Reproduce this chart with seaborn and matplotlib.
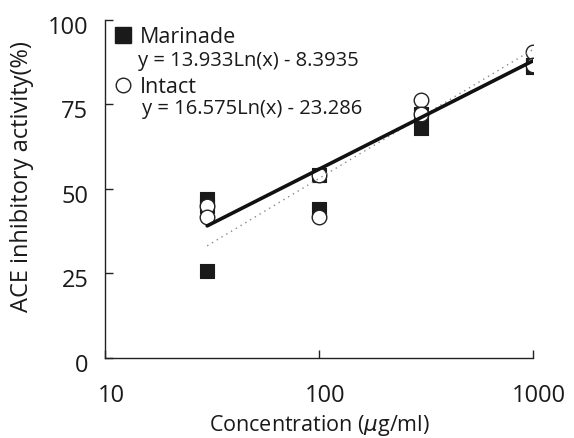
import numpy as np
import pandas as pd
import matplotlib
matplotlib.use("Agg")
import matplotlib.pyplot as plt
import matplotlib.transforms as mtransforms
import seaborn as sns
from matplotlib.lines import Line2D

# ---- data ----
marinade_x = [30, 30, 30, 100, 100, 300, 300, 1000, 1000]
marinade_y = [47, 45, 25.5, 54, 44, 72, 68, 86, 86.5]
intact_x = [30, 30, 100, 100, 300, 300, 1000, 1000]
intact_y = [45, 41.5, 54, 41.6, 76.3, 72, 90.3, 86.5]
marinade_coef = (13.933, -8.3935)
intact_coef = (16.575, -23.286)
fit_range = (30, 1000)
x_ticks = [10, 100, 1000]
y_ticks = [0, 25, 50, 75, 100]

sns.set_theme(style="ticks")
plt.rcParams['font.family'] = ['Open Sans', 'DejaVu Sans']

fig = plt.figure(figsize=(5.74, 4.39), dpi=100)
ax = fig.add_axes([0.183, 0.183, 0.746, 0.770])

dm = pd.DataFrame({"x": marinade_x, "y": marinade_y})
di = pd.DataFrame({"x": intact_x, "y": intact_y})

sns.scatterplot(data=dm, x="x", y="y", marker="s", s=115, color="#1a1a1a",
                edgecolor="#1a1a1a", linewidth=0.8, ax=ax, zorder=3)
sns.scatterplot(data=di, x="x", y="y", marker="o", s=110, facecolor="white",
                edgecolor="#222222", linewidth=1.0, ax=ax, zorder=4)

xf = np.geomspace(fit_range[0], fit_range[1], 60)
fm = pd.DataFrame({"x": xf, "y": marinade_coef[0] * np.log(xf) + marinade_coef[1]})
fi = pd.DataFrame({"x": xf, "y": intact_coef[0] * np.log(xf) + intact_coef[1]})
sns.lineplot(data=fi, x="x", y="y", color="#888888", linewidth=1.0,
             linestyle=(0, (1, 3)), ax=ax, zorder=5)
sns.lineplot(data=fm, x="x", y="y", color="#111111", linewidth=2.6, ax=ax, zorder=6)

ax.set_xscale("log")
ax.set_xlim(10, 1000)
ax.set_ylim(0, 100)
ax.set_xticks(x_ticks)
ax.set_xticklabels([str(t) for t in x_ticks])
ax.set_yticks(y_ticks)
ax.set_yticklabels([str(t) for t in y_ticks])
ax.minorticks_off()
ax.tick_params(axis="both", direction="in", length=6, width=1, labelsize=17, color="#222222",
               labelcolor="#1a1a1a")
ax.tick_params(axis="x", pad=18.5)
ax.tick_params(axis="y", pad=12)
for lab in ax.get_xticklabels():
    lab.set_transform(lab.get_transform() + mtransforms.ScaledTranslation(6 / 100, 0, fig.dpi_scale_trans))
for lab in ax.get_yticklabels():
    lab.set_transform(lab.get_transform() + mtransforms.ScaledTranslation(0, -4 / 100, fig.dpi_scale_trans))
for s in ["top", "right"]:
    ax.spines[s].set_visible(False)
for s in ["left", "bottom"]:
    ax.spines[s].set_linewidth(1.0)
    ax.spines[s].set_color("#222222")

ax.set_xlabel(r"Concentration ($\mu$g/ml)", fontsize=15.5, color="#1a1a1a")
ax.set_ylabel("ACE inhibitory activity(%)", fontsize=17, color="#1a1a1a")
ax.xaxis.set_label_coords(0.5, -0.16)
ax.yaxis.set_label_coords(-0.165, 0.54)

handles = [
    Line2D([], [], marker="s", linestyle="none", markersize=11, color="#1a1a1a"),
    Line2D([], [], marker="o", linestyle="none", markersize=10.5, markerfacecolor="white",
           markeredgecolor="#222222", markeredgewidth=1.0),
]
ax.legend(handles, ["Marinade", "Intact"], loc="upper left", bbox_to_anchor=(-0.025, 1.025),
          frameon=False, fontsize=15.5, labelspacing=1.35, handletextpad=0.1,
          handlelength=1.3, borderaxespad=0.3, labelcolor="#1a1a1a")
ax.text(0.077, 0.882, "y = 13.933Ln(x) - 8.3935", transform=ax.transAxes,
        fontsize=14.5, va="center", ha="left", color="#1a1a1a")
ax.text(0.086, 0.740, "y = 16.575Ln(x) - 23.286", transform=ax.transAxes,
        fontsize=14.5, va="center", ha="left", color="#1a1a1a")

fig.savefig("out.png", dpi=100)
